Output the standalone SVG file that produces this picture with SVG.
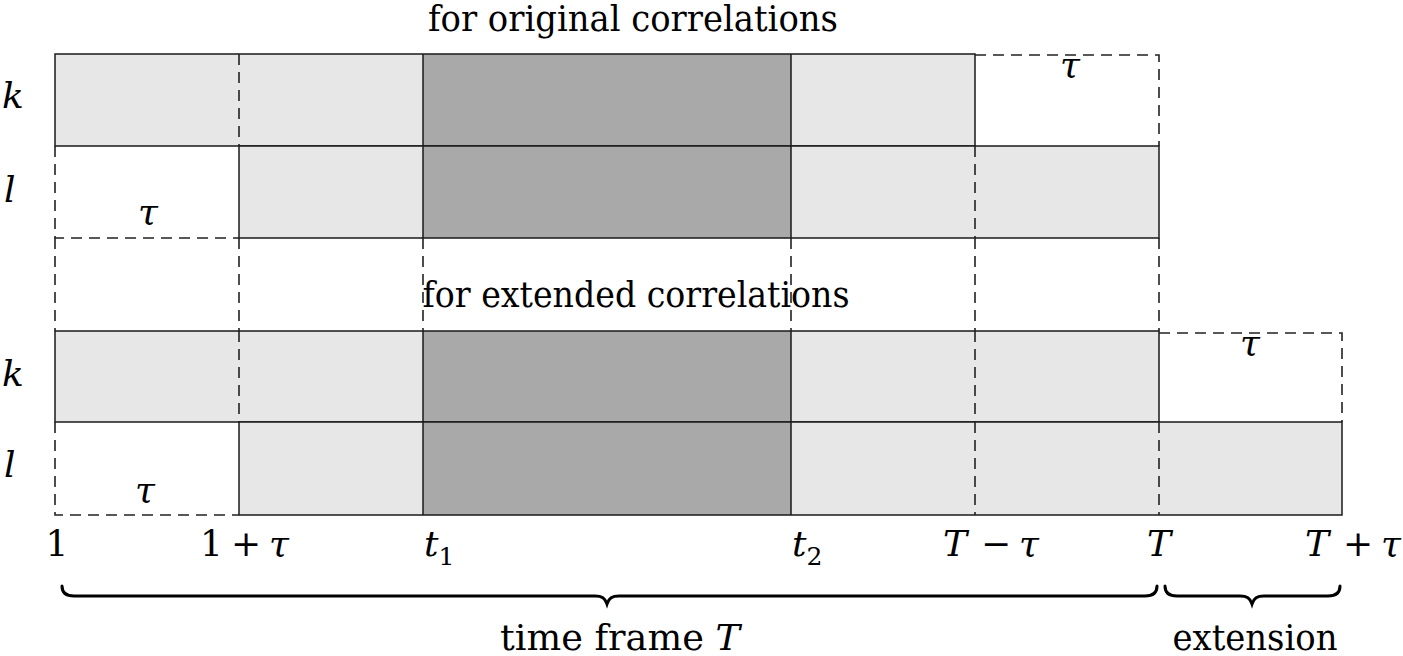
<svg xmlns="http://www.w3.org/2000/svg" width="1403" height="656" viewBox="0 0 1403 656">
<style>
.light{fill:#e7e7e7;stroke:none}
.dark{fill:#a9a9a9;stroke:none}
.solid{stroke:#1a1a1a;stroke-width:1.5;fill:none}
.dash{stroke:#222;stroke-width:1.6;fill:none;stroke-dasharray:11 7}
.txt{font-family:"DejaVu Serif","Liberation Serif",serif;fill:#000;font-size:35px}
.math{font-family:"DejaVu Serif","Liberation Serif",serif;fill:#000;font-size:36px}
.it{font-style:italic}
.brace{stroke:#000;stroke-width:3;fill:none;stroke-linecap:round}
</style>
<rect width="1403" height="656" fill="#fff"/>

<g id="top-k">
  <rect class="light" x="55" y="54" width="920" height="92"/>
  <rect class="dark" x="423" y="54" width="368" height="92"/>
  <rect class="solid" x="55" y="54" width="920" height="92"/>
  <line class="solid" x1="423" y1="54" x2="423" y2="146"/>
  <line class="solid" x1="791" y1="54" x2="791" y2="146"/>
  <line class="dash" x1="239" y1="54" x2="239" y2="146"/>
  <path class="dash" d="M975,55 H1159 V146"/>
  <text class="math it" x="1070" y="77" text-anchor="middle">τ</text>
</g>

<g id="top-l">
  <rect class="light" x="239" y="146" width="920" height="92"/>
  <rect class="dark" x="423" y="146" width="368" height="92"/>
  <rect class="solid" x="239" y="146" width="920" height="92"/>
  <line class="solid" x1="423" y1="146" x2="423" y2="238"/>
  <line class="solid" x1="791" y1="146" x2="791" y2="238"/>
  <line class="dash" x1="975" y1="146" x2="975" y2="238"/>
  <path class="dash" d="M55,146 V238 H239"/>
  <text class="math it" x="148" y="224" text-anchor="middle">τ</text>
</g>

<g id="bottom-k">
  <rect class="light" x="55" y="331" width="1104" height="91"/>
  <rect class="dark" x="423" y="331" width="368" height="91"/>
  <rect class="solid" x="55" y="331" width="1104" height="91"/>
  <line class="solid" x1="423" y1="331" x2="423" y2="422"/>
  <line class="solid" x1="791" y1="331" x2="791" y2="422"/>
  <line class="dash" x1="239" y1="331" x2="239" y2="422"/>
  <line class="dash" x1="975" y1="331" x2="975" y2="422"/>
  <path class="dash" d="M1159,333 H1342 V422"/>
  <text class="math it" x="1250" y="355" text-anchor="middle">τ</text>
</g>

<g id="bottom-l">
  <rect class="light" x="239" y="422" width="1103" height="93"/>
  <rect class="dark" x="423" y="422" width="368" height="93"/>
  <rect class="solid" x="239" y="422" width="1103" height="93"/>
  <line class="solid" x1="423" y1="422" x2="423" y2="515"/>
  <line class="solid" x1="791" y1="422" x2="791" y2="515"/>
  <line class="dash" x1="975" y1="422" x2="975" y2="515"/>
  <line class="dash" x1="1159" y1="422" x2="1159" y2="515"/>
  <path class="dash" d="M55,422 V515 H239"/>
  <text class="math it" x="145" y="502" text-anchor="middle">τ</text>
</g>

<g id="guides">
  <line class="dash" x1="55" y1="238" x2="55" y2="331"/>
  <line class="dash" x1="239" y1="238" x2="239" y2="331"/>
  <line class="dash" x1="423" y1="238" x2="423" y2="331"/>
  <line class="dash" x1="791" y1="238" x2="791" y2="331"/>
  <line class="dash" x1="975" y1="238" x2="975" y2="331"/>
  <line class="dash" x1="1159" y1="238" x2="1159" y2="331"/>
</g>

<g id="row-labels">
  <text class="math it" x="2" y="108">k</text>
  <text class="math it" x="4" y="202">l</text>
  <text class="math it" x="2" y="386">k</text>
  <text class="math it" x="4" y="477">l</text>
</g>

<g id="titles">
  <text class="txt" x="633" y="31" text-anchor="middle" textLength="410" lengthAdjust="spacingAndGlyphs">for original correlations</text>
  <text class="txt" x="636" y="307" text-anchor="middle" textLength="427" lengthAdjust="spacingAndGlyphs">for extended correlations</text>
</g>

<g id="axis-labels">
  <text class="math" x="57" y="556" text-anchor="middle">1</text>
  <text class="math" y="556"><tspan x="200">1</tspan><tspan x="231">+</tspan><tspan class="it" x="269">τ</tspan></text>
  <text class="math it" x="424" y="556">t<tspan font-size="25" font-style="normal" dy="9">1</tspan></text>
  <text class="math it" x="792" y="556">t<tspan font-size="25" font-style="normal" dy="9">2</tspan></text>
  <text class="math" y="556"><tspan class="it" x="943">T</tspan><tspan x="981">−</tspan><tspan class="it" x="1019">τ</tspan></text>
  <text class="math it" x="1147" y="556">T</text>
  <text class="math" y="556"><tspan class="it" x="1305">T</tspan><tspan x="1343">+</tspan><tspan class="it" x="1381">τ</tspan></text>
</g>

<g id="braces">
  <path class="brace" d="M62,586 C62,593 66,596 74,596 L595,596 C602,596 605,598 607,604 C609,598 612,596 619,596 L1145,596 C1153,596 1157,593 1157,586"/>
  <path class="brace" d="M1165,586 C1165,593 1169,596 1177,596 L1240,596 C1247,596 1250,598 1252,604 C1254,598 1257,596 1264,596 L1328,596 C1336,596 1340,593 1340,586"/>
  <text class="txt" x="620" y="650" text-anchor="middle" textLength="240" lengthAdjust="spacingAndGlyphs">time frame <tspan class="it">T</tspan></text>
  <text class="txt" x="1255" y="650" text-anchor="middle" textLength="165" lengthAdjust="spacingAndGlyphs">extension</text>
</g>
</svg>
